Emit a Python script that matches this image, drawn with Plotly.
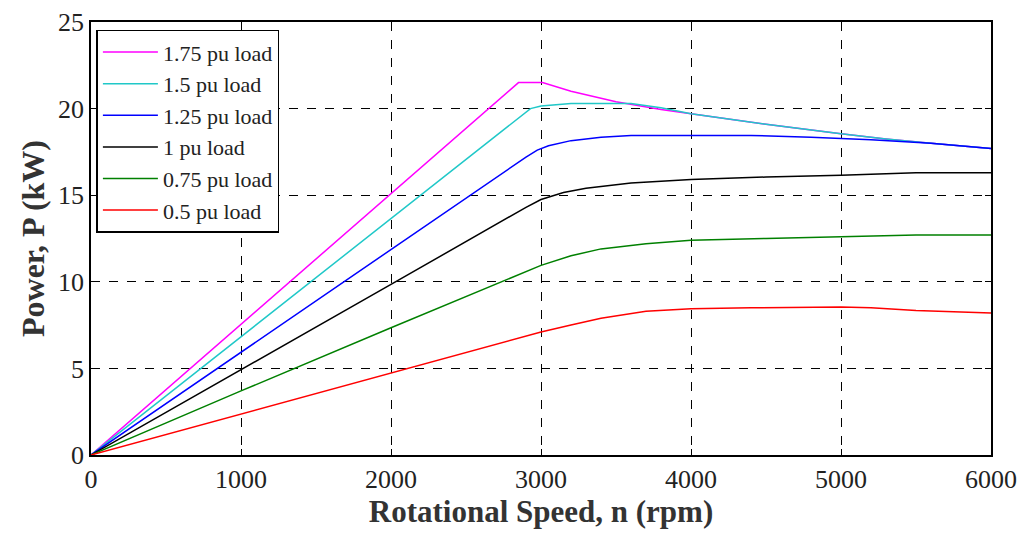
import plotly.graph_objects as go

# Data (speed in rpm, power in kW)
speed_175 = [0, 2850, 3010, 3200, 3500, 3800, 4000, 4500, 5000, 5300, 5600, 6000]
power_175 = [0, 21.5, 21.5, 21.0, 20.4, 19.95, 19.7, 19.1, 18.55, 18.25, 18.0, 17.7]

speed_150 = [0, 2850, 2930, 3000, 3200, 3600, 3800, 4000, 4500, 5000, 5300, 5600, 6000]
power_150 = [0, 19.45, 20.0, 20.15, 20.3, 20.3, 20.05, 19.7, 19.1, 18.55, 18.25, 18.0, 17.7]

speed_125 = [0, 2800, 2900, 2975, 3050, 3200, 3400, 3600, 4000, 4400, 4800, 5200, 5600, 6000]
power_125 = [0, 16.65, 17.2, 17.6, 17.85, 18.15, 18.35, 18.45, 18.46, 18.45, 18.35, 18.2, 18.0, 17.7]

speed_100 = [0, 1000, 2000, 2900, 3000, 3150, 3300, 3600, 4000, 4500, 5000, 5500, 6000]
power_100 = [0, 4.95, 9.85, 14.3, 14.75, 15.15, 15.4, 15.7, 15.9, 16.05, 16.15, 16.3, 16.3]

speed_075 = [0, 1000, 2000, 2900, 3000, 3200, 3400, 3700, 4000, 4500, 5000, 5500, 6000]
power_075 = [0, 3.7, 7.35, 10.6, 10.95, 11.5, 11.9, 12.2, 12.4, 12.5, 12.6, 12.7, 12.7]

speed_050 = [0, 1000, 2000, 3000, 3200, 3400, 3700, 4000, 4400, 5000, 5200, 5500, 6000]
power_050 = [0, 2.38, 4.76, 7.1, 7.5, 7.9, 8.3, 8.45, 8.5, 8.55, 8.5, 8.35, 8.2]

series_names = ["1.75 pu load", "1.5 pu load", "1.25 pu load", "1 pu load", "0.75 pu load", "0.5 pu load"]
series_x = [speed_175, speed_150, speed_125, speed_100, speed_075, speed_050]
series_y = [power_175, power_150, power_125, power_100, power_075, power_050]
series_colors = ["#ff00ff", "#20c8c8", "#0000ff", "#000000", "#008000", "#ff0000"]

x_ticks = [0, 1000, 2000, 3000, 4000, 5000, 6000]
y_ticks = [0, 5, 10, 15, 20, 25]

fig = go.Figure()
for name, xs, ys, col in zip(series_names, series_x, series_y, series_colors):
    fig.add_trace(go.Scatter(x=xs, y=ys, mode="lines", name=name,
                             line=dict(color=col, width=1.5)))

font_family = "Liberation Serif"
axis_common = dict(
    showline=True, linecolor="black", linewidth=1.5, mirror="ticks",
    ticks="inside", ticklen=6, tickcolor="black", tickwidth=1,
    showgrid=True, gridcolor="black", gridwidth=1, griddash="dash",
    zeroline=False, automargin=False,
    tickfont=dict(family=font_family, size=26, color="#222"),
)

fig.update_layout(
    width=1027, height=534,
    margin=dict(l=83, r=44, t=14, b=87),
    paper_bgcolor="white", plot_bgcolor="white",
    xaxis=dict(range=[0, 6000], tickvals=x_ticks,
               title=dict(text="<b>Rotational Speed, n (rpm)</b>",
                          font=dict(family=font_family, size=31, color="#333"),
                          standoff=2),
               **axis_common),
    yaxis=dict(range=[0, 25], tickvals=y_ticks,
               title=dict(text="<b>Power, P (kW)</b>",
                          font=dict(family=font_family, size=32, color="#333"),
                          standoff=4),
               **axis_common),
    legend=dict(x=0.006, y=0.982, xanchor="left", yanchor="top",
                bgcolor="white", bordercolor="black", borderwidth=1.5,
                font=dict(family=font_family, size=22, color="#222"),
                tracegroupgap=0, itemwidth=55),
    showlegend=True,
)

fig.write_html("out.html")
